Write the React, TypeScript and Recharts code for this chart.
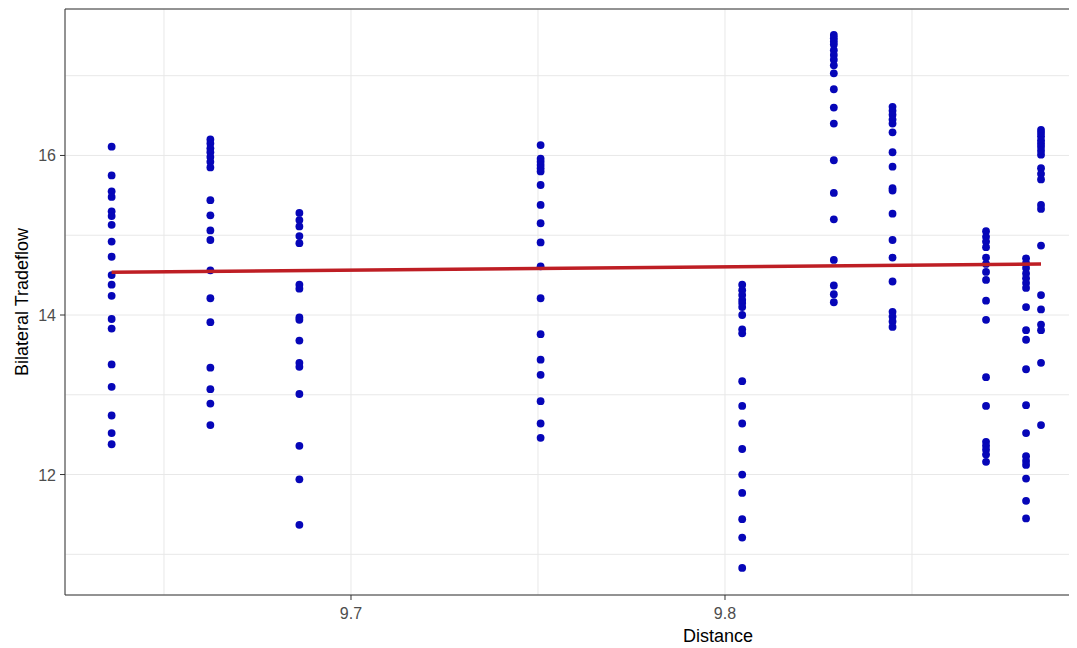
import React from 'react';
import {
  ScatterChart,
  Scatter,
  XAxis,
  YAxis,
  CartesianGrid,
  ReferenceLine,
  Label,
} from 'recharts';

// distance (log) of each country pair – one column of points per pair
const distances = [9.636, 9.6624, 9.6862, 9.7507, 9.8046, 9.8291, 9.8448, 9.8698, 9.8805, 9.8845];

// bilateral tradeflow (log) observed for each distance
const flowsA = [16.11, 15.75, 15.55, 15.48, 15.3, 15.24, 15.13, 14.92, 14.73, 14.5, 14.38, 14.24, 13.95, 13.83, 13.38, 13.1, 12.74, 12.52, 12.38];
const flowsB = [16.2, 16.15, 16.09, 16.04, 15.98, 15.92, 15.85, 15.44, 15.25, 15.06, 14.94, 14.56, 14.21, 13.91, 13.34, 13.07, 12.89, 12.62];
const flowsC = [15.28, 15.19, 15.11, 14.99, 14.9, 14.38, 14.33, 13.97, 13.94, 13.68, 13.4, 13.35, 13.01, 12.36, 11.94, 11.37];
const flowsD = [16.13, 15.96, 15.92, 15.88, 15.84, 15.8, 15.63, 15.38, 15.15, 14.91, 14.61, 14.21, 13.76, 13.44, 13.25, 12.92, 12.64, 12.46];
const flowsE = [14.38, 14.31, 14.25, 14.19, 14.15, 14.1, 14.0, 13.82, 13.77, 13.17, 12.86, 12.64, 12.32, 12.0, 11.77, 11.44, 11.21, 10.83];
const flowsF = [17.51, 17.47, 17.43, 17.39, 17.32, 17.26, 17.2, 17.13, 17.03, 16.83, 16.6, 16.4, 15.94, 15.53, 15.2, 14.69, 14.37, 14.26, 14.16];
const flowsG = [16.61, 16.56, 16.51, 16.45, 16.4, 16.29, 16.04, 15.86, 15.59, 15.56, 15.27, 14.94, 14.72, 14.42, 14.04, 13.98, 13.92, 13.85];
const flowsH = [15.05, 14.98, 14.92, 14.85, 14.72, 14.64, 14.54, 14.44, 14.18, 13.94, 13.22, 12.86, 12.41, 12.36, 12.31, 12.25, 12.16];
const flowsI = [14.71, 14.65, 14.59, 14.52, 14.46, 14.4, 14.34, 14.1, 13.81, 13.69, 13.32, 12.87, 12.52, 12.23, 12.17, 12.12, 11.95, 11.67, 11.45];
const flowsJ = [16.32, 16.28, 16.24, 16.19, 16.15, 16.11, 16.06, 16.01, 15.84, 15.77, 15.7, 15.38, 15.33, 14.87, 14.25, 14.07, 13.88, 13.81, 13.4, 12.62];

const flowColumns = [flowsA, flowsB, flowsC, flowsD, flowsE, flowsF, flowsG, flowsH, flowsI, flowsJ];

// ends of the fitted linear trend
const fitX = [9.636, 9.8845];
const fitY = [14.536, 14.64];

const xTicks = [9.65, 9.7, 9.75, 9.8, 9.85];
const xLabelled = [9.7, 9.8];
const yTicks = [11, 12, 13, 14, 15, 16, 17];
const yLabelled = [12, 14, 16];

const xDomain: [number, number] = [9.62353, 9.89412];
const yDomain: [number, number] = [10.49, 17.836];

const points = distances.flatMap((d, i) => flowColumns[i].map((f) => ({ x: d, y: f })));
const fitLine = fitX.map((x, i) => ({ x, y: fitY[i] }));

const font = '"Liberation Sans", Arial, sans-serif';

const XTick = (props: any) => {
  const { x, y, payload } = props;
  if (!xLabelled.includes(payload.value)) return <g />;
  return (
    <g>
      <line x1={x} x2={x} y1={y} y2={y + 5} stroke="#333" />
      <text x={x} y={y + 24} textAnchor="middle" fill="#4D4D4D" fontSize={16} fontFamily={font}>
        {payload.value.toFixed(1)}
      </text>
    </g>
  );
};

const YTick = (props: any) => {
  const { x, y, payload } = props;
  if (!yLabelled.includes(payload.value)) return <g />;
  return (
    <g>
      <line x1={x - 5} x2={x} y1={y} y2={y} stroke="#333" />
      <text x={x - 9} y={y + 6} textAnchor="end" fill="#4D4D4D" fontSize={16} fontFamily={font}>
        {payload.value}
      </text>
    </g>
  );
};

const XTitle = (props: any) => {
  const { viewBox } = props;
  return (
    <text x={viewBox.x + 653} y={viewBox.y + 47} textAnchor="middle" fill="#000" fontSize={18} fontFamily={font}>
      Distance
    </text>
  );
};

const YTitle = (props: any) => {
  const { viewBox } = props;
  const cx = viewBox.x + 14;
  const cy = viewBox.y + viewBox.height / 2;
  return (
    <text
      x={cx}
      y={cy}
      transform={`rotate(-90 ${cx} ${cy})`}
      textAnchor="middle"
      dominantBaseline="central"
      fill="#000"
      fontSize={18}
      fontFamily={font}
    >
      Bilateral Tradeflow
    </text>
  );
};

const Dot = (props: any) => <circle cx={props.cx} cy={props.cy} r={3.9} fill="#0606B8" />;

export default function App() {
  return (
    <ScatterChart
      width={1069}
      height={640}
      margin={{ top: 1, right: 0, bottom: 0, left: 0 }}
      style={{ fontFamily: font, background: '#fff' }}
    >
      <CartesianGrid stroke="#E8E8E8" strokeWidth={1} />
      <XAxis
        type="number"
        dataKey="x"
        domain={xDomain}
        ticks={xTicks}
        interval={0}
        allowDataOverflow
        height={53}
        tickSize={0}
        tickMargin={0}
        tickLine={false}
        axisLine={{ stroke: '#333' }}
        tick={<XTick />}
      >
        <Label content={<XTitle />} />
      </XAxis>
      <YAxis
        type="number"
        dataKey="y"
        domain={yDomain}
        ticks={yTicks}
        interval={0}
        allowDataOverflow
        width={57}
        tickSize={0}
        tickMargin={0}
        tickLine={false}
        axisLine={{ stroke: '#333' }}
        tick={<YTick />}
      >
        <Label content={<YTitle />} />
      </YAxis>
      <ReferenceLine y={yDomain[1]} stroke="#333" />
      <Scatter data={points} shape={<Dot />} isAnimationActive={false} />
      <Scatter
        data={fitLine}
        line={{ stroke: '#BE1E24', strokeWidth: 3.5 }}
        shape={() => <g />}
        isAnimationActive={false}
      />
    </ScatterChart>
  );
}
